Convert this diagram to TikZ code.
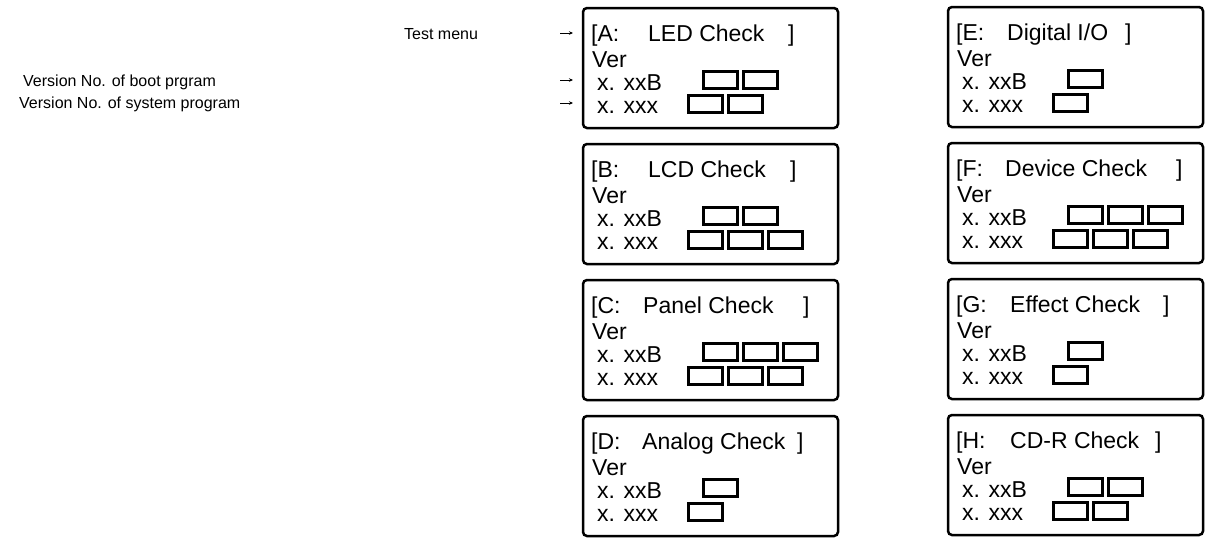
\documentclass[tikz,border=0pt]{standalone}
\usepackage{fontspec}
\setmainfont{Liberation Sans}
\usetikzlibrary{calc,arrows.meta}
\tikzset{
  panel/.style={draw, line width=2.5pt, rounded corners=4pt,
    minimum width=255pt, minimum height=120pt, inner sep=0pt, outer sep=0pt},
  cell/.style={draw, line width=2.7pt, minimum width=34pt, minimum height=17pt,
    inner sep=0pt, anchor=south west},
  boxtext/.style={font=\fontsize{23}{23}\selectfont, inner sep=0pt, anchor=base west},
  labeltext/.style={font=\fontsize{16}{16}\selectfont, inner sep=0pt, anchor=base west},
  pointer/.style={-{Stealth[length=4pt,width=3.5pt]}, line width=0.7pt},
}
% #1 name, #2 left x, #3 top y, #4 letter, #5 title, #6 title offset,
% #7 bracket offset, #8 cells in boot row, #9 cells in system row
\newcommand\menupanel[9]{%
  \node[panel] (#1) at (#2+127.5,#3+60) {};
  \node[boxtext] (#1-tag) at ($(#1.north west)+(8,33)$) {[#4:};
  \node[boxtext] (#1-title) at ($(#1.north west)+(#6,33)$) {#5};
  \node[boxtext] (#1-close) at ($(#1.north west)+(#7,33)$) {]};
  \node[boxtext] (#1-ver) at ($(#1.north west)+(9,59)$) {Ver};
  \node[boxtext] (#1-boot) at ($(#1.north west)+(14,82)$) {x. xxB};
  \node[boxtext] (#1-sys) at ($(#1.north west)+(14,105)$) {x. xxx};
  \foreach \i in {1,...,#8} {
    \node[cell] (#1-b\i) at ($(#1.north west)+({119+40*(\i-1)},82)$) {};
  }
  \foreach \i in {1,...,#9} {
    \node[cell] (#1-s\i) at ($(#1.north west)+({104+40*(\i-1)},106)$) {};
  }
}
\begin{document}
\begin{tikzpicture}[x=1pt,y=-1pt]
  \useasboundingbox (0,0) rectangle (1210,539);

  % left column of menu screens
  \menupanel{A}{583}{8}{A}{LED Check}{65}{205}{2}{2}
  \menupanel{B}{583}{144}{B}{LCD Check}{65}{207}{2}{3}
  \menupanel{C}{583}{280}{C}{Panel Check}{60}{220}{3}{3}
  \menupanel{D}{583}{416}{D}{Analog Check}{59}{214}{1}{1}

  % right column of menu screens
  \menupanel{E}{948}{7}{E}{Digital I/O}{59}{177}{1}{1}
  \menupanel{F}{948}{143}{F}{Device Check}{57}{228}{3}{3}
  \menupanel{G}{948}{279}{G}{Effect Check}{62}{215}{1}{1}
  \menupanel{H}{948}{415}{H}{CD-R Check}{62}{207}{2}{2}

  % captions
  \node[labeltext] (menu) at (404,39) {Test menu};
  \node[labeltext] (boot) at (23,86) {Version No. of boot prgram};
  \node[labeltext] (sys) at (19,108) {Version No. of system program};

  % pointers to the first screen
  \coordinate (p1a) at (560,33); \coordinate (p1b) at (573,33);
  \coordinate (p2a) at (560,80); \coordinate (p2b) at (573,80);
  \coordinate (p3a) at (560,103); \coordinate (p3b) at (573,103);
  \draw[pointer] (p1a) -- (p1b);
  \draw[pointer] (p2a) -- (p2b);
  \draw[pointer] (p3a) -- (p3b);
\end{tikzpicture}
\end{document}
